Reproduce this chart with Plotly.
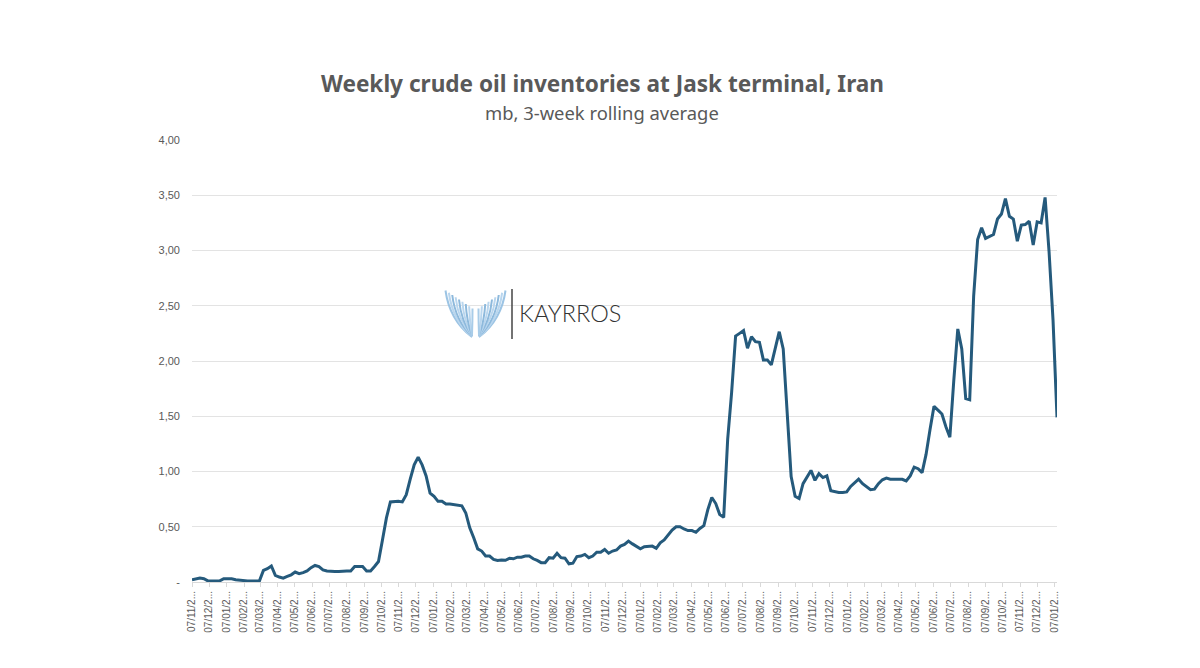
import pandas as pd
import plotly.graph_objects as go

# weekly values (mb)
inventories = [
    .02, .03, .035, .03, .01, .01, .01, .01, .03, .03, .03, .02, .015, .01, .01, .01, .012, .01, .105, .12,
    .145, .06, .045, .035, .05, .065, .09, .075, .085, .10, .13, .15, .14, .11, .10, .095, .095, .095, .10, .10,
    .10, .14, .14, .14, .10, .10, .14, .185, .38, .58, .725, .73, .73, .725, .79, .93, 1.06, 1.13, 1.06, .96,
    .805, .775, .73, .73, .705, .705, .70, .695, .69, .625, .49, .40, .30, .28, .235, .235, .205, .195, .20, .197,
    .215, .21, .225, .225, .235, .235, .21, .195, .175, .175, .22, .215, .26, .22, .215, .165, .17, .23, .235, .25,
    .22, .235, .27, .27, .295, .26, .28, .29, .325, .34, .37, .345, .32, .30, .32, .32, .325, .305, .355, .38,
    .43, .47, .50, .50, .48, .465, .465, .45, .485, .51, .655, .765, .71, .61, .585, 1.29, 1.715, 2.225, 2.25, 2.275,
    2.115, 2.22, 2.175, 2.17, 2.01, 2.01, 1.965, 2.12, 2.265, 2.11, 1.53, .955, .775, .755, .89, .955, 1.01, .92, .98, .945,
    .96, .825, .815, .81, .81, .815, .865, .895, .93, .89, .86, .835, .84, .89, .925, .94, .93, .93, .925, .93,
    .915, .96, 1.04, 1.025, .99, 1.155, 1.38, 1.59, 1.555, 1.52, 1.405, 1.31, 1.83, 2.29, 2.11, 1.66, 1.65, 2.59, 3.10, 3.205,
    3.11, 3.13, 3.145, 3.285, 3.33, 3.47, 3.31, 3.285, 3.085, 3.23, 3.235, 3.265, 3.05, 3.26, 3.25, 3.48, 2.99, 2.37, 1.49,
]
weeks = pd.date_range("2020-11-07", periods=len(inventories), freq="7D")

month_labels = [
    "07/11", "07/12", "07/01", "07/02", "07/03", "07/04", "07/05", "07/06", "07/07", "07/08", "07/09", "07/10",
    "07/11", "07/12", "07/01", "07/02", "07/03", "07/04", "07/05", "07/06", "07/07", "07/08", "07/09", "07/10",
    "07/11", "07/12", "07/01", "07/02", "07/03", "07/04", "07/05", "07/06", "07/07", "07/08", "07/09", "07/10",
    "07/11", "07/12", "07/01", "07/02", "07/03", "07/04", "07/05", "07/06", "07/07", "07/08", "07/09", "07/10",
    "07/11", "07/12", "07/01",
]
tick_dates = pd.date_range("2020-11-07", periods=len(month_labels), freq=pd.DateOffset(months=1))
tick_labels = [m + "/2..." for m in month_labels]

y_ticks = [0, .5, 1, 1.5, 2, 2.5, 3, 3.5, 4]
y_labels = ["-", "0,50", "1,00", "1,50", "2,00", "2,50", "3,00", "3,50", "4,00"]

TITLE = "Weekly crude oil inventories at Jask terminal, Iran"
SUBTITLE = "mb, 3-week rolling average"
GRAY = "#595959"

# plot area in pixels
L, R, T, B = 192, 1057, 140, 582
px = lambda x: (x - L) / (R - L)
py = lambda y: (B - y) / (B - T)

fig = go.Figure()
fig.add_trace(go.Scatter(x=weeks, y=inventories, mode="lines",
                         line=dict(color="#255a7c", width=3), hoverinfo="skip"))

fig.update_layout(
    width=1200, height=668,
    margin=dict(l=L, r=1200 - R, t=T, b=668 - B),
    paper_bgcolor="white", plot_bgcolor="white",
    showlegend=False,
    font=dict(family="Liberation Sans", color=GRAY),
)
fig.update_xaxes(
    type="date", range=[weeks[0], weeks[-1]],
    tickmode="array", tickvals=tick_dates, ticktext=tick_labels,
    tickangle=-90, tickfont=dict(size=10, color=GRAY),
    showgrid=False, showline=True, linecolor="#d9d9d9", linewidth=1,
    ticks="outside", ticklen=4, tickcolor="#d9d9d9",
)
fig.update_yaxes(
    range=[0, 4], tickmode="array", tickvals=y_ticks, ticktext=y_labels,
    tickfont=dict(size=11, color=GRAY), ticks="", ticklabelstandoff=11,
    showgrid=True, gridcolor="#e3e3e3", gridwidth=1, zeroline=False,
)

fig.add_annotation(text="<b>" + TITLE + "</b>", xref="paper", yref="paper",
                   x=px(602), y=py(83), showarrow=False, xanchor="center", yanchor="middle",
                   font=dict(family="Noto Sans", size=22.6, color=GRAY))
fig.add_annotation(text=SUBTITLE, xref="paper", yref="paper",
                   x=px(602), y=py(112), showarrow=False, xanchor="center", yanchor="middle",
                   font=dict(family="Noto Sans", size=18.4, color=GRAY))

# Kayrros logo
fig.add_annotation(text="KAYRROS", xref="paper", yref="paper",
                   x=px(570), y=py(313), showarrow=False, xanchor="center", yanchor="middle",
                   font=dict(family="Lato", size=23.5, color="#333333", weight=300))
fig.add_shape(type="line", xref="paper", yref="paper",
              x0=px(512), x1=px(512), y0=py(289), y1=py(339),
              line=dict(color="#444444", width=1.5))

wing_blues = ["#9cc4e4", "#b9d6ee", "#8db9dc", "#b9d6ee", "#8db9dc", "#b9d6ee", "#8db9dc", "#b9d6ee", "#a8cce8"]
for k, c in enumerate(wing_blues):
    t = k / (len(wing_blues) - 1)
    # left wing stripe, then its mirror image
    for cx, sign in ((475.5, -1), (475.5, 1)):
        sx = cx + sign * (30 - 27 * t)
        sy = 290.5 + 18 * t
        ex = cx + sign * 3.5
        ey = 337 - 2 * t
        mx = cx + sign * (26 - 23 * t)
        my = 320 + 2 * t
        path = (f"M {px(sx):.5f} {py(sy):.5f} Q {px(mx):.5f} {py(my):.5f} {px(ex):.5f} {py(ey):.5f}")
        fig.add_shape(type="path", xref="paper", yref="paper", path=path,
                      line=dict(color=c, width=2))

# browser default body margin would shift the whole figure by 8px
fig.write_html("out.html", config=dict(displayModeBar=False),
               post_script="document.body.style.margin='0';")
